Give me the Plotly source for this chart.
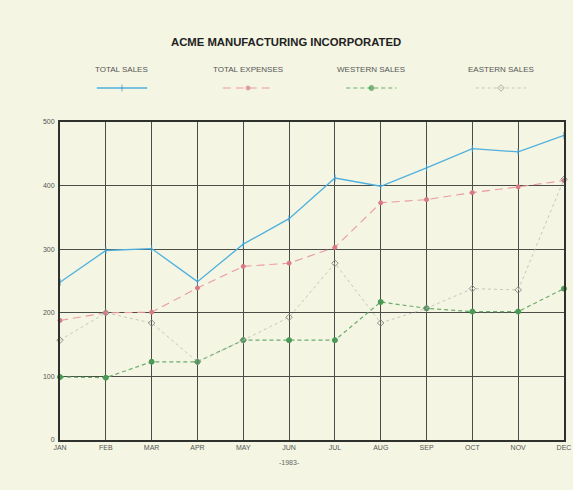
import plotly.graph_objects as go

months = ["JAN", "FEB", "MAR", "APR", "MAY", "JUN", "JUL", "AUG", "SEP", "OCT", "NOV", "DEC"]
total_sales = [248, 298, 301, 249, 308, 348, 412, 399, 428, 458, 453, 479]
total_expenses = [188, 200, 201, 239, 273, 278, 303, 373, 378, 389, 398, 408]
western_sales = [99, 98, 123, 123, 157, 157, 157, 217, 207, 202, 202, 238]
eastern_sales = [157, 200, 184, 123, 157, 193, 278, 184, 207, 238, 236, 410]
y_ticks = [0, 100, 200, 300, 400, 500]

series = [
    ("TOTAL SALES", total_sales, "#4fb0de", "#3a8fc0", "solid", "line-ns-open", 5, 1.3),
    ("TOTAL EXPENSES", total_expenses, "#eb9aa0", "#d97a85", "8px,5px", "circle", 4, 1.1),
    ("WESTERN SALES", western_sales, "#6aae6e", "#4a9a55", "4px,3px", "circle", 5, 1.2),
    ("EASTERN SALES", eastern_sales, "#c0c3b8", "#8e9288", "dot", "diamond-open", 5, 0.9),
]

bg = "#f4f5e3"
fig = go.Figure()
xi = list(range(len(months)))

for name, vals, col, mcol, dash, sym, ms, lw in series:
    fig.add_trace(go.Scatter(
        x=xi, y=vals, mode="lines+markers", name=name,
        line=dict(color=col, width=lw, dash=dash),
        marker=dict(symbol=sym, size=ms, color=mcol, line=dict(color=mcol, width=1)),
        showlegend=False, cliponaxis=False,
    ))

# custom legend: label above, line sample below
leg_centers = [0.123, 0.373, 0.618, 0.875]
for (name, vals, col, mcol, dash, sym, ms, lw), cx in zip(series, leg_centers):
    fig.add_trace(go.Scatter(
        x=[cx - 0.05, cx, cx + 0.05], y=[0, 0, 0], xaxis="x2", yaxis="y2",
        mode="lines+markers", showlegend=False, hoverinfo="skip",
        line=dict(color=col, width=lw, dash=dash),
        marker=dict(symbol=sym, size=[0, ms, 0], color=mcol, line=dict(color=mcol, width=1)),
    ))
    fig.add_annotation(x=cx, y=1, xref="x2", yref="y2", text=name, showarrow=False,
                       font=dict(family="Liberation Sans Narrow, Liberation Sans, Arial", size=8, color="#555"),
                       yanchor="middle")

fig.add_annotation(x=0.448, y=1.0, xref="paper", yref="paper", xanchor="center", yanchor="middle",
                   yshift=18, showarrow=False,
                   text="<b>ACME MANUFACTURING INCORPORATED</b>",
                   font=dict(family="Liberation Sans, Arial", size=11.3, color="#222"))
fig.add_annotation(x=0.455, y=0, xref="paper", yref="paper", xanchor="center", yanchor="top",
                   yshift=-17, showarrow=False, text="-1983-",
                   font=dict(family="Liberation Sans Narrow, Liberation Sans", size=7, color="#666"))

fig.update_layout(
    width=573, height=490,
    margin=dict(l=60, r=9, t=60, b=50),
    paper_bgcolor=bg, plot_bgcolor=bg,
    xaxis=dict(tickvals=xi, ticktext=months, range=[0, 11], showgrid=True,
               gridcolor="#4a4d48", gridwidth=1.2, zeroline=False,
               showline=True, linecolor="#2e312c", linewidth=2, mirror=True,
               automargin=False, ticklabeloverflow="allow",
               ticks="", tickfont=dict(family="Liberation Sans Narrow, Liberation Sans", size=7, color="#555")),
    yaxis=dict(domain=[0, 0.8368], range=[0, 500], tickvals=y_ticks, showgrid=True,
               gridcolor="#4a4d48", gridwidth=1.2, zeroline=False,
               showline=True, linecolor="#2e312c", linewidth=2, mirror=True,
               ticks="", ticklabelstandoff=2, automargin=False,
               tickfont=dict(family="Liberation Sans Narrow, Liberation Sans", size=7, color="#555")),
    xaxis2=dict(domain=[0, 1], range=[0, 1], visible=False, anchor="y2"),
    yaxis2=dict(domain=[0.905, 0.99], range=[-0.45, 1.34], visible=False, anchor="x2"),
    showlegend=False,
)

fig.write_html("out.html", config={"displayModeBar": False},
               post_script="document.body.style.margin='0';document.body.style.overflow='hidden';document.body.style.background='#f4f5e3';")
